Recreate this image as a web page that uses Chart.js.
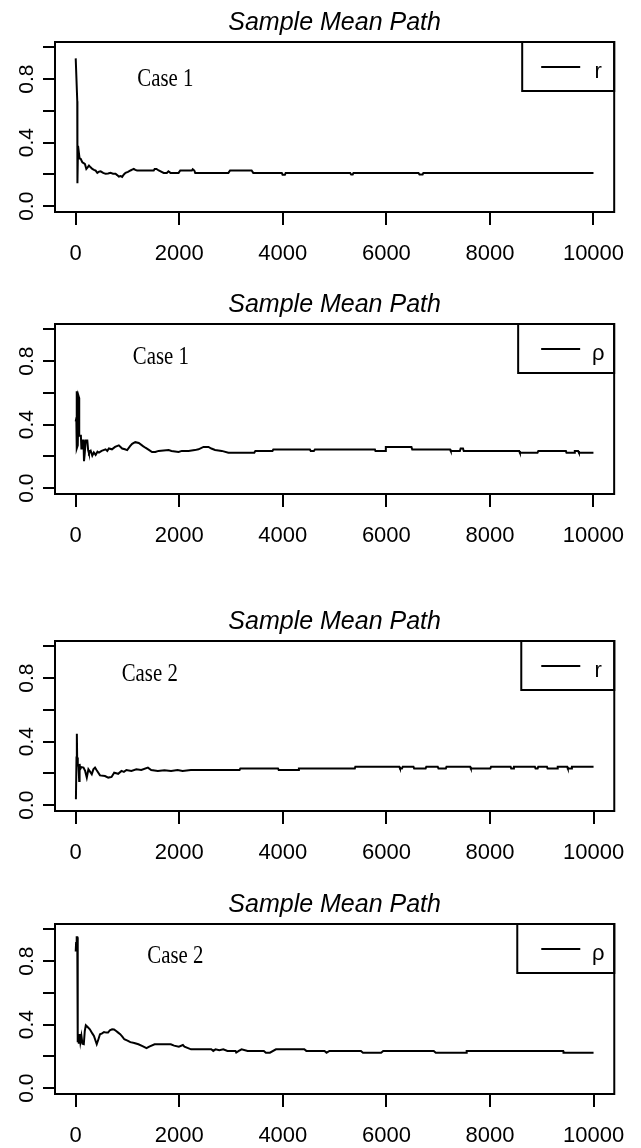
<!DOCTYPE html>
<html>
<head>
<meta charset="utf-8">
<script src="https://cdn.jsdelivr.net/npm/chart.js@4/dist/chart.umd.min.js"></script>
<style>
html,body{margin:0;padding:0;background:#fff;width:641px;height:1148px;overflow:hidden}
.p{position:absolute;left:0;width:641px;height:266px}
canvas{display:block}
</style>
</head>
<body>
<div class="p" style="top:0px"><canvas id="c0" width="641" height="266"></canvas></div>
<div class="p" style="top:282px"><canvas id="c1" width="641" height="266"></canvas></div>
<div class="p" style="top:599px"><canvas id="c2" width="641" height="266"></canvas></div>
<div class="p" style="top:882px"><canvas id="c3" width="641" height="266"></canvas></div>
<script>
// ---- tick values / labels ----
const xTickValues = [0, 2000, 4000, 6000, 8000, 10000];
const xTickLabels = ['0', '2000', '4000', '6000', '8000', '10000'];
const yTickValues = [0, 0.2, 0.4, 0.6, 0.8, 1.0];
const yTickLabels = ['0.0', '', '0.4', '', '0.8', ''];

const titleText = 'Sample Mean Path';
const seriesLabels = ['r', 'ρ', 'r', 'ρ'];
const caseLabels = ['Case 1', 'Case 1', 'Case 2', 'Case 2'];

// ---- Case 1, r ----
const case1_r_x = [0, 30, 33, 45, 58, 75, 96, 128, 160, 179, 205, 230, 256, 288, 320, 353, 385, 417, 450, 481, 530, 577, 625, 673, 720, 769, 800, 833, 870, 897, 930, 962, 1010, 1058, 1090, 1122, 1150, 1186, 1506, 1525, 1560, 1603, 1699, 1760, 1790, 1830, 1859, 1987, 2019, 2244, 2260, 2290, 2308, 2949, 2981, 3397, 3429, 3980, 3995, 4040, 4055, 5300, 5320, 5350, 5365, 6620, 6640, 6700, 6715, 10000];
const case1_r_y = [0.93, 0.66, 0.145, 0.38, 0.38, 0.30, 0.298, 0.277, 0.27, 0.265, 0.235, 0.245, 0.256, 0.245, 0.235, 0.229, 0.224, 0.21, 0.218, 0.22, 0.21, 0.204, 0.206, 0.21, 0.205, 0.204, 0.196, 0.187, 0.19, 0.185, 0.2, 0.21, 0.216, 0.225, 0.23, 0.235, 0.229, 0.225, 0.225, 0.235, 0.235, 0.225, 0.21, 0.21, 0.22, 0.21, 0.21, 0.21, 0.225, 0.225, 0.233, 0.225, 0.21, 0.21, 0.225, 0.225, 0.21, 0.21, 0.198, 0.198, 0.21, 0.21, 0.2, 0.2, 0.21, 0.21, 0.2, 0.2, 0.21, 0.21];

// ---- Case 1, rho ----
const case1_rho_x = [0, 12, 18, 22, 40, 55, 64, 68, 100, 110, 125, 128, 150, 160, 175, 192, 224, 240, 256, 290, 320, 350, 385, 420, 449, 500, 577, 610, 641, 700, 760, 833, 897, 950, 994, 1050, 1090, 1150, 1218, 1300, 1346, 1420, 1474, 1538, 1600, 1795, 1850, 1987, 2050, 2179, 2300, 2372, 2468, 2564, 2620, 2692, 2821, 2949, 3450, 3470, 3800, 3817, 4523, 4540, 4600, 4620, 5779, 5790, 5975, 5990, 6485, 6500, 7231, 7245, 7420, 7435, 7480, 7495, 8566, 8580, 8919, 8935, 9468, 9480, 9625, 9640, 9704, 9720, 10000];
const case1_rho_y = [0.42, 0.44, 0.61, 0.25, 0.27, 0.58, 0.57, 0.33, 0.33, 0.25, 0.25, 0.30, 0.30, 0.17, 0.22, 0.30, 0.30, 0.24, 0.22, 0.235, 0.205, 0.225, 0.21, 0.23, 0.224, 0.235, 0.245, 0.235, 0.25, 0.245, 0.26, 0.27, 0.25, 0.245, 0.24, 0.265, 0.28, 0.29, 0.285, 0.265, 0.255, 0.24, 0.228, 0.228, 0.235, 0.24, 0.235, 0.228, 0.235, 0.235, 0.24, 0.245, 0.26, 0.26, 0.25, 0.241, 0.235, 0.224, 0.224, 0.234, 0.234, 0.244, 0.244, 0.234, 0.234, 0.244, 0.244, 0.234, 0.234, 0.259, 0.259, 0.244, 0.244, 0.234, 0.234, 0.25, 0.25, 0.234, 0.234, 0.223, 0.223, 0.234, 0.234, 0.223, 0.223, 0.234, 0.234, 0.223, 0.223];

// ---- Case 2, r ----
const case2_r_x = [4, 15, 22, 28, 40, 54, 67, 75, 86, 110, 150, 182, 214, 245, 280, 310, 341, 373, 405, 469, 565, 628, 692, 743, 800, 820, 884, 930, 979, 1075, 1171, 1266, 1394, 1458, 1585, 1713, 1841, 1968, 2064, 2224, 3164, 3180, 3906, 3920, 4297, 4310, 5390, 5400, 6249, 6262, 6300, 6315, 6522, 6535, 6757, 6770, 6991, 7005, 7148, 7160, 7617, 7630, 8007, 8020, 8398, 8410, 8450, 8462, 8867, 8880, 8920, 8932, 9100, 9112, 9296, 9308, 9491, 9503, 9570, 9582, 10000];
const case2_r_y = [0.038, 0.30, 0.45, 0.30, 0.25, 0.247, 0.153, 0.26, 0.226, 0.24, 0.237, 0.216, 0.174, 0.226, 0.21, 0.195, 0.226, 0.237, 0.22, 0.188, 0.184, 0.174, 0.178, 0.205, 0.2, 0.198, 0.216, 0.21, 0.222, 0.216, 0.226, 0.222, 0.237, 0.222, 0.216, 0.22, 0.216, 0.222, 0.216, 0.222, 0.222, 0.232, 0.232, 0.222, 0.222, 0.232, 0.232, 0.242, 0.242, 0.232, 0.232, 0.242, 0.242, 0.232, 0.232, 0.242, 0.242, 0.232, 0.232, 0.242, 0.242, 0.232, 0.232, 0.242, 0.242, 0.232, 0.232, 0.242, 0.242, 0.232, 0.232, 0.242, 0.242, 0.232, 0.232, 0.242, 0.242, 0.232, 0.232, 0.242, 0.242];

// ---- Case 2, rho ----
const case2_rho_x = [0, 8, 15, 23, 30, 39, 50, 60, 75, 90, 110, 130, 156, 175, 195, 230, 273, 320, 352, 406, 440, 469, 510, 547, 590, 625, 660, 703, 740, 781, 820, 859, 900, 938, 1000, 1055, 1130, 1211, 1290, 1367, 1420, 1523, 1836, 1900, 1992, 2070, 2100, 2227, 2617, 2656, 2700, 2773, 2850, 2930, 3086, 3100, 3150, 3203, 3320, 3633, 3672, 3750, 3867, 4414, 4453, 4805, 4844, 4900, 5039, 5508, 5547, 5898, 5938, 6914, 6953, 7539, 7550, 9414, 9420, 10000];
const case2_rho_y = [0.86, 0.92, 0.88, 0.95, 0.95, 0.29, 0.34, 0.28, 0.34, 0.29, 0.33, 0.28, 0.277, 0.36, 0.396, 0.385, 0.371, 0.345, 0.329, 0.277, 0.31, 0.34, 0.345, 0.354, 0.35, 0.35, 0.365, 0.371, 0.37, 0.36, 0.35, 0.34, 0.325, 0.308, 0.3, 0.29, 0.285, 0.277, 0.265, 0.252, 0.262, 0.277, 0.277, 0.268, 0.262, 0.272, 0.262, 0.245, 0.245, 0.235, 0.245, 0.24, 0.245, 0.235, 0.235, 0.225, 0.235, 0.245, 0.235, 0.235, 0.224, 0.224, 0.245, 0.245, 0.235, 0.235, 0.224, 0.235, 0.235, 0.235, 0.224, 0.224, 0.235, 0.235, 0.224, 0.224, 0.235, 0.235, 0.224, 0.224];

const seriesX = [case1_r_x, case1_rho_x, case2_r_x, case2_rho_x];
const seriesY = [case1_r_y, case1_rho_y, case2_r_y, case2_rho_y];

// annotation anchors in data units (centre x, baseline y)
const caseAnchorX = [1730, 1644, 1430, 1923];
const caseAnchorY = [0.755, 0.78, 0.78, 0.79];

// layout (pixels)
const rightPad = [25, 26, 23, 23];
const legendWidth = [92, 96, 93, 97];

const FONT = "'Liberation Sans', Arial, sans-serif";

function makeChart(i) {
  const data = seriesX[i].map((x, k) => ({ x: x, y: seriesY[i][k] }));
  const deco = {
    id: 'deco' + i,
    afterDraw(chart) {
      const ctx = chart.ctx;
      const a = chart.chartArea;
      const xs = chart.scales.x, ys = chart.scales.y;
      ctx.save();
      ctx.strokeStyle = '#000';
      ctx.fillStyle = '#000';
      ctx.lineWidth = 2;
      // plot box
      ctx.strokeRect(a.left, a.top, a.right - a.left, a.bottom - a.top);
      // title
      ctx.font = 'italic 25px ' + FONT;
      ctx.textAlign = 'center';
      ctx.textBaseline = 'alphabetic';
      ctx.fillText(titleText, (a.left + a.right) / 2, a.top - 12);
      // rotated y labels
      ctx.font = '21px ' + FONT;
      yTickValues.forEach((v, k) => {
        const lab = yTickLabels[k];
        if (!lab) return;
        const py = ys.getPixelForValue(v);
        ctx.save();
        ctx.translate(33, py);
        ctx.rotate(-Math.PI / 2);
        ctx.textAlign = 'center';
        ctx.textBaseline = 'alphabetic';
        ctx.fillText(lab, 0, 0);
        ctx.restore();
      });
      // Case annotation (Times-like, condensed)
      const cx = xs.getPixelForValue(caseAnchorX[i]);
      const cy = ys.getPixelForValue(caseAnchorY[i]);
      ctx.save();
      ctx.translate(cx, cy);
      ctx.scale(0.8, 1);
      ctx.font = "26px 'Liberation Serif', 'Times New Roman', serif";
      ctx.textAlign = 'center';
      ctx.textBaseline = 'alphabetic';
      ctx.fillText(caseLabels[i], 0, 0);
      ctx.restore();
      // legend box (top-right, R style)
      const lw = legendWidth[i];
      ctx.lineWidth = 2;
      ctx.strokeRect(a.right - lw, a.top, lw, 49);
      ctx.beginPath();
      ctx.moveTo(a.right - 73, a.top + 25);
      ctx.lineTo(a.right - 34, a.top + 25);
      ctx.stroke();
      ctx.font = '22px ' + FONT;
      ctx.textAlign = 'center';
      ctx.textBaseline = 'alphabetic';
      ctx.fillText(chart.data.datasets[0].label, a.right - 16, a.top + 36);
      ctx.restore();
    }
  };
  return new Chart(document.getElementById('c' + i), {
    type: 'line',
    data: {
      datasets: [{
        label: seriesLabels[i],
        data: data,
        borderColor: '#000',
        borderWidth: 2,
        pointRadius: 0,
        tension: 0,
        fill: false
      }]
    },
    options: {
      responsive: false,
      animation: false,
      devicePixelRatio: 1,
      parsing: true,
      layout: { padding: { left: 0, right: rightPad[i], top: 42, bottom: 0 } },
      plugins: { legend: { display: false }, title: { display: false }, tooltip: { enabled: false } },
      scales: {
        x: {
          type: 'linear',
          position: 'bottom',
          min: -400,
          max: 10400,
          afterBuildTicks: s => { s.ticks = xTickValues.map(v => ({ value: v })); },
          afterFit: s => { s.height = 54; },
          ticks: {
            autoSkip: false,
            maxRotation: 0,
            minRotation: 0,
            padding: 16,
            color: '#000',
            font: { family: FONT, size: 22 },
            callback: (v, idx) => xTickLabels[idx]
          },
          grid: { drawOnChartArea: false, drawTicks: true, tickLength: 13, color: '#000', lineWidth: 2 },
          border: { display: false }
        },
        y: {
          type: 'linear',
          position: 'left',
          min: -0.036,
          max: 1.033,
          afterBuildTicks: s => { s.ticks = yTickValues.map(v => ({ value: v })); },
          afterFit: s => { s.width = 55; },
          ticks: { display: false },
          grid: { drawOnChartArea: false, drawTicks: true, tickLength: 12, color: '#000', lineWidth: 2 },
          border: { display: false }
        }
      }
    },
    plugins: [deco]
  });
}
for (let i = 0; i < 4; i++) makeChart(i);
</script>
</body>
</html>
